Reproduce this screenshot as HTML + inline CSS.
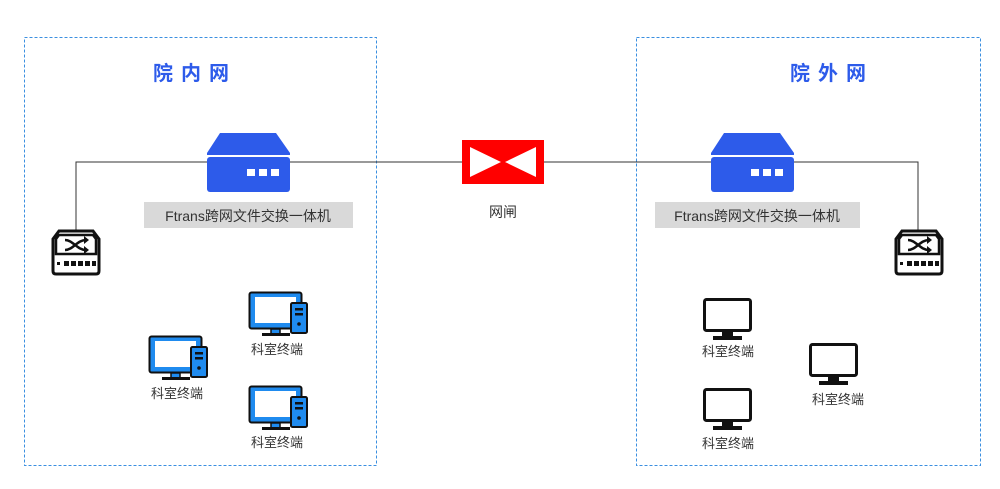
<!DOCTYPE html>
<html><head><meta charset="utf-8"><style>
html,body{margin:0;padding:0;background:#fff;}
svg{display:block}
text{font-family:"Liberation Sans","Noto Sans CJK SC",sans-serif;}
</style></head><body>
<svg width="1000" height="489" viewBox="0 0 1000 489" xmlns="http://www.w3.org/2000/svg">
<defs>
<g id="sw">
 <path d="M6,2 H40 L46,10 V42 Q46,45 43,45 H3 Q0,45 0,42 V10 Z" fill="#fff" stroke="#111" stroke-width="3"/>
 <path d="M6,6 H40 L43,10 V25 H3 V10 Z" fill="#fff" stroke="#111" stroke-width="2.5"/>
 <path d="M12,11 C20,11 24,21 33,21 M12,21 C20,21 24,11 33,11" fill="none" stroke="#111" stroke-width="2.5"/>
 <path d="M31,7 L36,11 L31,15 Z M31,17 L36,21 L31,25 Z" fill="#111"/>
 <rect x="4" y="33" width="3" height="3" fill="#111"/>
 <rect x="11" y="32" width="5" height="5" fill="#111"/><rect x="18" y="32" width="5" height="5" fill="#111"/><rect x="25" y="32" width="5" height="5" fill="#111"/><rect x="32" y="32" width="5" height="5" fill="#111"/><rect x="39" y="32" width="4" height="5" fill="#111"/>
</g>
<g id="srv">
 <path d="M13,0 H69 L83,20 V22 H0 V20 Z" fill="#2d5bea"/>
 <rect x="0" y="24" width="83" height="35" rx="3" fill="#2d5bea"/>
 <rect x="40" y="36" width="8" height="7" fill="#fff"/><rect x="52" y="36" width="8" height="7" fill="#fff"/><rect x="64" y="36" width="8" height="7" fill="#fff"/>
</g>
<g id="pc">
 <rect x="1.5" y="1.5" width="52" height="36" rx="2" fill="#1f8bef" stroke="#111" stroke-width="2"/>
 <rect x="7" y="6" width="41" height="26" fill="#fff"/>
 <rect x="23" y="38" width="9" height="5" fill="#1f8bef" stroke="#111" stroke-width="1.5"/>
 <rect x="14" y="42" width="28" height="3" fill="#111"/>
 <rect x="43" y="12" width="16" height="30" rx="1.5" fill="#1f8bef" stroke="#111" stroke-width="2"/>
 <rect x="47" y="17" width="8" height="2.5" fill="#111"/><rect x="47" y="22" width="8" height="2.5" fill="#111"/>
 <circle cx="51" cy="33" r="1.8" fill="#111"/>
</g>
<g id="mon">
 <rect x="1.5" y="1.5" width="46" height="31" rx="2" fill="#fff" stroke="#111" stroke-width="3"/>
 <rect x="19" y="33" width="11" height="5" fill="#111"/>
 <rect x="10" y="38" width="29" height="4" fill="#111"/>
</g>
</defs>

<rect x="24.5" y="37.5" width="352" height="428" fill="none" stroke="#3b8fe0" stroke-width="1" stroke-dasharray="3,2"/>
<rect x="636.5" y="37.5" width="344" height="428" fill="none" stroke="#3b8fe0" stroke-width="1" stroke-dasharray="3,2"/>

<text x="195" y="80" font-size="20" font-weight="bold" fill="#2d5bea" text-anchor="middle" letter-spacing="8">院内网</text>
<text x="832" y="80" font-size="20" font-weight="bold" fill="#2d5bea" text-anchor="middle" letter-spacing="8">院外网</text>

<polyline points="76,230 76,162 918,162 918,230" fill="none" stroke="#333" stroke-width="1"/>

<use href="#srv" x="207" y="133"/>
<use href="#srv" x="711" y="133"/>
<rect x="144" y="202" width="209" height="26" fill="#d9d9d9"/>
<text x="248" y="221" font-size="14" fill="#333" text-anchor="middle">Ftrans跨网文件交换一体机</text>
<rect x="655" y="202" width="205" height="26" fill="#d9d9d9"/>
<text x="757" y="221" font-size="14" fill="#333" text-anchor="middle">Ftrans跨网文件交换一体机</text>

<rect x="462" y="140" width="82" height="44" fill="#f00"/>
<path d="M470,147 L501,162 L470,177 Z M536,147 L505,162 L536,177 Z" fill="#fff"/>
<text x="503" y="217" font-size="14" fill="#333" text-anchor="middle">网闸</text>

<use href="#sw" x="53" y="229"/>
<use href="#sw" x="896" y="229"/>

<use href="#pc" x="248" y="291"/>
<text x="277" y="354" font-size="13" fill="#333" text-anchor="middle">科室终端</text>
<use href="#pc" x="148" y="335"/>
<text x="177" y="398" font-size="13" fill="#333" text-anchor="middle">科室终端</text>
<use href="#pc" x="248" y="385"/>
<text x="277" y="447" font-size="13" fill="#333" text-anchor="middle">科室终端</text>

<use href="#mon" x="703" y="298"/>
<text x="728" y="356" font-size="13" fill="#333" text-anchor="middle">科室终端</text>
<use href="#mon" x="809" y="343"/>
<text x="838" y="404" font-size="13" fill="#333" text-anchor="middle">科室终端</text>
<use href="#mon" x="703" y="388"/>
<text x="728" y="448" font-size="13" fill="#333" text-anchor="middle">科室终端</text>
</svg>
</body></html>
